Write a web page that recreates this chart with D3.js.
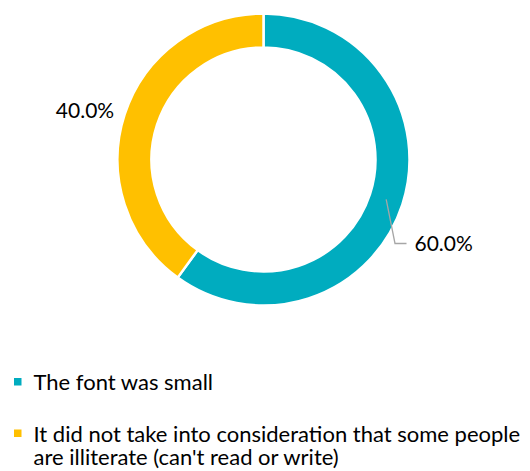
<!DOCTYPE html>
<html>
<head>
<meta charset="utf-8">
<script src="https://cdn.jsdelivr.net/npm/d3@7"></script>
<style>
  html, body { margin: 0; padding: 0; background: #ffffff; }
  svg { display: block; font-family: Lato, "Open Sans", sans-serif; }
</style>
</head>
<body>
<svg id="chart" width="530" height="471"></svg>
<script>
// Survey answers and their shares (percent)
const categories = [
  "The font was small",
  "It did not take into consideration that some people are illiterate (can't read or write)"
];
const values = [60.0, 40.0];
const colors = ["#00acbf", "#ffc000"];

const svg = d3.select("#chart");
const cx = 263.5, cy = 159.5;
const outerR = 146, innerR = 112;

const pie = d3.pie().sort(null).value(d => d.value);
const arcs = pie(categories.map((c, i) => ({ name: c, value: values[i], color: colors[i] })));
const arc = d3.arc().innerRadius(innerR).outerRadius(outerR);

const g = svg.append("g").attr("transform", `translate(${cx},${cy})`);

g.selectAll("path.slice")
  .data(arcs)
  .join("path")
  .attr("class", "slice")
  .attr("d", arc)
  .attr("fill", d => d.data.color)
  .attr("stroke", "#ffffff")
  .attr("stroke-width", 2.5)
  .attr("stroke-linejoin", "miter");

const fmt = d => d3.format(".1f")(d) + "%";

// Label for the first slice: leader line from the ring's centroid out to the label
const c0 = arc.centroid(arcs[0]);
const elbow = [131.5, 84];
const tip = [143, 84];
g.append("polyline")
  .attr("points", [c0, elbow, tip].map(p => p.join(",")).join(" "))
  .attr("fill", "none")
  .attr("stroke", "#a6a6a6")
  .attr("stroke-width", 1.3);
g.append("text")
  .attr("x", tip[0] + 8)
  .attr("y", tip[1])
  .attr("dy", "0.35em")
  .attr("font-size", 21)
  .attr("fill", "#000")
  .text(fmt(arcs[0].data.value));

// Label for the second slice, placed outside along its mid-angle
const labelArc = d3.arc().innerRadius(157).outerRadius(157);
const p1 = labelArc.centroid(arcs[1]);
g.append("text")
  .attr("x", p1[0])
  .attr("y", p1[1])
  .attr("dy", "0.35em")
  .attr("text-anchor", "end")
  .attr("font-size", 21)
  .attr("fill", "#000")
  .text(fmt(arcs[1].data.value));

// Legend
const legend = svg.append("g").attr("transform", "translate(14,0)");
const legendRows = [
  { lines: [categories[0]], y: 390 },
  { lines: ["It did not take into consideration that some people", "are illiterate (can't read or write)"], y: 441.5 }
];
legendRows.forEach((row, i) => {
  legend.append("rect")
    .attr("x", 0)
    .attr("y", row.y - 12)
    .attr("width", 7.5)
    .attr("height", 7.5)
    .attr("fill", colors[i]);
  const t = legend.append("text")
    .attr("x", 19.5)
    .attr("y", row.y)
    .attr("font-size", 22)
    .attr("fill", "#000");
  row.lines.forEach((ln, j) => {
    t.append("tspan")
      .attr("x", 19.5)
      .attr("dy", j === 0 ? 0 : 23.5)
      .text(ln);
  });
});
</script>
</body>
</html>
